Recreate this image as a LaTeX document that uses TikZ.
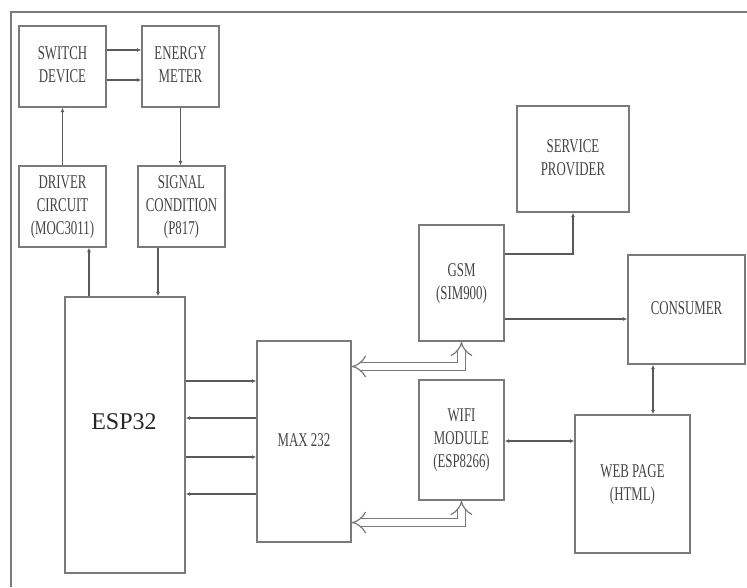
\documentclass[tikz,border=0pt]{standalone}
\usepackage{fontspec}
\setmainfont{Liberation Serif}
\usepackage{graphicx}
\usetikzlibrary{arrows.meta}
\definecolor{boxline}{HTML}{7A7A7A}
\definecolor{wireline}{HTML}{5A5A5A}
\definecolor{txt}{HTML}{444444}
\newcommand{\lbl}[1]{\scalebox{0.66}[1]{\begin{tabular}{@{}c@{}}#1\end{tabular}}}
\begin{document}
\begin{tikzpicture}[x=1pt,y=-1pt,
  box/.style={draw=boxline, line width=1.4pt, rectangle, inner sep=0pt, text=txt,
    font=\fontsize{19.5}{23}\selectfont},
  tip/.tip={Latex[length=4.5pt,width=4pt]},
  arr/.style={draw=wireline, line width=1.1pt, -tip},
  darr/.style={draw=wireline, line width=1.1pt, tip-tip},
  dbl/.style={draw=boxline, line width=1.2pt, double=white, double distance=6.5pt, {Implies}-{Implies}}]
\useasboundingbox (0,0) rectangle (747,587);
\draw[line width=1.4pt, draw=boxline] (11,587) -- (11,12) -- (747,12);

% boxes
\node[box, minimum width=87pt, minimum height=81pt] (sw) at (62.5,66.5) {\lbl{SWITCH\\DEVICE}};
\node[box, minimum width=77pt, minimum height=81pt] (em) at (180.5,66.5) {\lbl{ENERGY\\METER}};
\node[box, minimum width=87pt, minimum height=81pt] (dc) at (62.5,206.5) {\lbl{DRIVER\\CIRCUIT\\(MOC3011)}};
\node[box, minimum width=87pt, minimum height=81pt] (sc) at (181.5,206.5) {\lbl{SIGNAL\\CONDITION\\(P817)}};
\node[box, minimum width=120pt, minimum height=276pt] (esp) at (125,435) {};
\node[text=black!85, font=\fontsize{24}{28}\selectfont] (esptxt) at (124,422) {ESP32};
\node[box, minimum width=94pt, minimum height=201pt] (max) at (304,441.5) {\lbl{MAX 232}};
\node[box, minimum width=85pt, minimum height=116pt] (gsm) at (461.5,283) {\lbl{GSM\\(SIM900)}};
\node[box, minimum width=85pt, minimum height=120pt] (wifi) at (461.5,440) {\lbl{WIFI\\MODULE\\(ESP8266)}};
\node[box, minimum width=112pt, minimum height=106pt] (sp) at (573,159) {\lbl{SERVICE\\PROVIDER}};
\node[box, minimum width=117pt, minimum height=109pt] (con) at (686.5,309.5) {\lbl{CONSUMER}};
\node[box, minimum width=115pt, minimum height=138pt] (web) at (632.5,484) {\lbl{WEB PAGE\\(HTML)}};

% connectors
\draw[arr] (sw.east |- 0,50) -- (em.west |- 0,50);
\draw[arr] (sw.east |- 0,80) -- (em.west |- 0,80);
\draw[arr] (dc.north) -- (sw.south);
\draw[arr] (em.south) -- (em.south |- sc.north);
\draw[arr] (esp.north -| 89,0) -- (dc.south -| 89,0);
\draw[arr] (sc.south -| 158,0) -- (esp.north -| 158,0);
\draw[arr] (esp.east |- 0,381) -- (max.west |- 0,381);
\draw[arr] (max.west |- 0,418) -- (esp.east |- 0,418);
\draw[arr] (esp.east |- 0,457) -- (max.west |- 0,457);
\draw[arr] (max.west |- 0,494) -- (esp.east |- 0,494);
\draw[dbl] (max.east |- 0,366.5) -| (gsm.south);
\draw[dbl] (max.east |- 0,522.5) -| (wifi.south);
\draw[arr] (gsm.east |- 0,254) -| (sp.south);
\draw[arr] (gsm.east |- 0,319) -- (con.west |- 0,319);
\draw[darr] (con.south -| 653,0) -- (web.north -| 653,0);
\draw[darr] (wifi.east |- 0,441) -- (web.west |- 0,441);
\end{tikzpicture}
\end{document}
